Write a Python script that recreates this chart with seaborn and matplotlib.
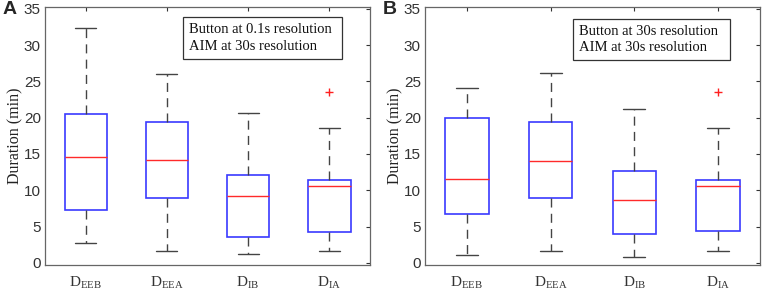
import numpy as np
import pandas as pd
import matplotlib
matplotlib.use("Agg")
import matplotlib.pyplot as plt
import seaborn as sns

# five-number summaries (minutes)
groups = ["EEB", "EEA", "IB", "IA"]

a_lo = [2.8, 1.6, 1.2, 1.6]
a_q1 = [7.3, 8.9, 3.6, 4.3]
a_med = [14.6, 14.1, 9.25, 10.55]
a_q3 = [20.55, 19.4, 12.05, 11.4]
a_hi = [32.3, 26.05, 20.7, 18.6]
a_out = [None, None, None, 23.55]

b_lo = [1.05, 1.6, 0.8, 1.6]
b_q1 = [6.7, 9.0, 3.95, 4.35]
b_med = [11.55, 14.05, 8.7, 10.6]
b_q3 = [19.95, 19.45, 12.6, 11.45]
b_hi = [24.05, 26.1, 21.15, 18.55]
b_out = [None, None, None, 23.6]

a_title = "Button at 0.1s resolution\nAIM at 30s resolution"
b_title = "Button at 30s resolution\nAIM at 30s resolution"


def sample(lo, q1, med, q3, hi, out):
    # 9 points whose quartiles land exactly on q1 / med / q3
    rows = []
    for g, l, a, m, b, h, o in zip(groups, lo, q1, med, q3, hi, out):
        if o is None:
            vals = [l, a, a, m, m, m, b, b, h]
        else:
            vals = [l, a, a, m, m, m, b, h, o]
        rows += [(g, v) for v in vals]
    return pd.DataFrame(rows, columns=["group", "duration"])


sns.set_style("white")
plt.rcParams["font.family"] = ["Liberation Sans", "DejaVu Sans"]
plt.rcParams["mathtext.fontset"] = "custom"
plt.rcParams["mathtext.rm"] = "Liberation Serif"
plt.rcParams["mathtext.it"] = "Liberation Serif:italic"

fig = plt.figure(figsize=(7.63, 2.96), dpi=100)
W, H = 763, 296
panels = [
    ("A", sample(a_lo, a_q1, a_med, a_q3, a_hi, a_out), a_title, 45, 370, (183, 17, 342, 59)),
    ("B", sample(b_lo, b_q1, b_med, b_q3, b_hi, b_out), b_title, 425, 760, (573, 19, 730, 60)),
]

for letter, df, title, left, right, box in panels:
    ax = fig.add_axes([left / W, 1 - 265 / H, (right - left) / W, (265 - 7) / H])
    sns.boxplot(
        data=df, x="group", y="duration", ax=ax, width=0.52,
        whis=1.5, linewidth=1.0,
        boxprops=dict(facecolor="white", edgecolor="#3a3aff", linewidth=1.2),
        medianprops=dict(color="#ff2a2a", linewidth=1.0),
        whiskerprops=dict(color="#444444", linestyle=(0, (6.5, 4.5)), linewidth=1.0),
        capprops=dict(color="#444444", linewidth=1.0),
        flierprops=dict(marker="+", markeredgecolor="#ff2020", markersize=6,
                        markeredgewidth=1.0),
    )
    ax.set_xlim(-0.5, 3.5)
    ax.set_ylim(-0.3, 35.25)
    ax.set_yticks(np.arange(0, 36, 5))
    ax.set_xticks(range(4))
    ax.set_xticklabels([r"$\mathrm{D}_{\mathrm{%s}}$" % g for g in groups],
                       fontsize=11)
    ax.set_xlabel("")
    ax.set_ylabel("Duration (min)", family=["Liberation Serif"], fontsize=11.5,
                  color="#222222", labelpad=0)
    ax.tick_params(axis="y", direction="in", length=3, right=True, labelsize=11,
                   colors="#333333", pad=3)
    ax.tick_params(axis="x", direction="in", length=3, top=True, pad=7,
                   colors="#333333")
    for s in ax.spines.values():
        s.set_color("#666666")
        s.set_linewidth(0.9)
    x0, y0, x1, y1 = box
    fig.patches.append(plt.Rectangle(
        (x0 / W, 1 - y1 / H), (x1 - x0) / W, (y1 - y0) / H,
        transform=fig.transFigure, fill=False, edgecolor="#333333", linewidth=0.9))
    fig.text((x0 + 6) / W, 1 - (y0 + y1) / 2 / H, title, va="center", ha="left",
             family=["Liberation Serif"], fontsize=10.5, linespacing=1.35,
             color="#111111")
    fig.text((left - 42) / W, 1 - 10 / H, letter, fontsize=14, fontweight="bold",
             va="center", ha="left")

fig.savefig("out.png", dpi=100)
